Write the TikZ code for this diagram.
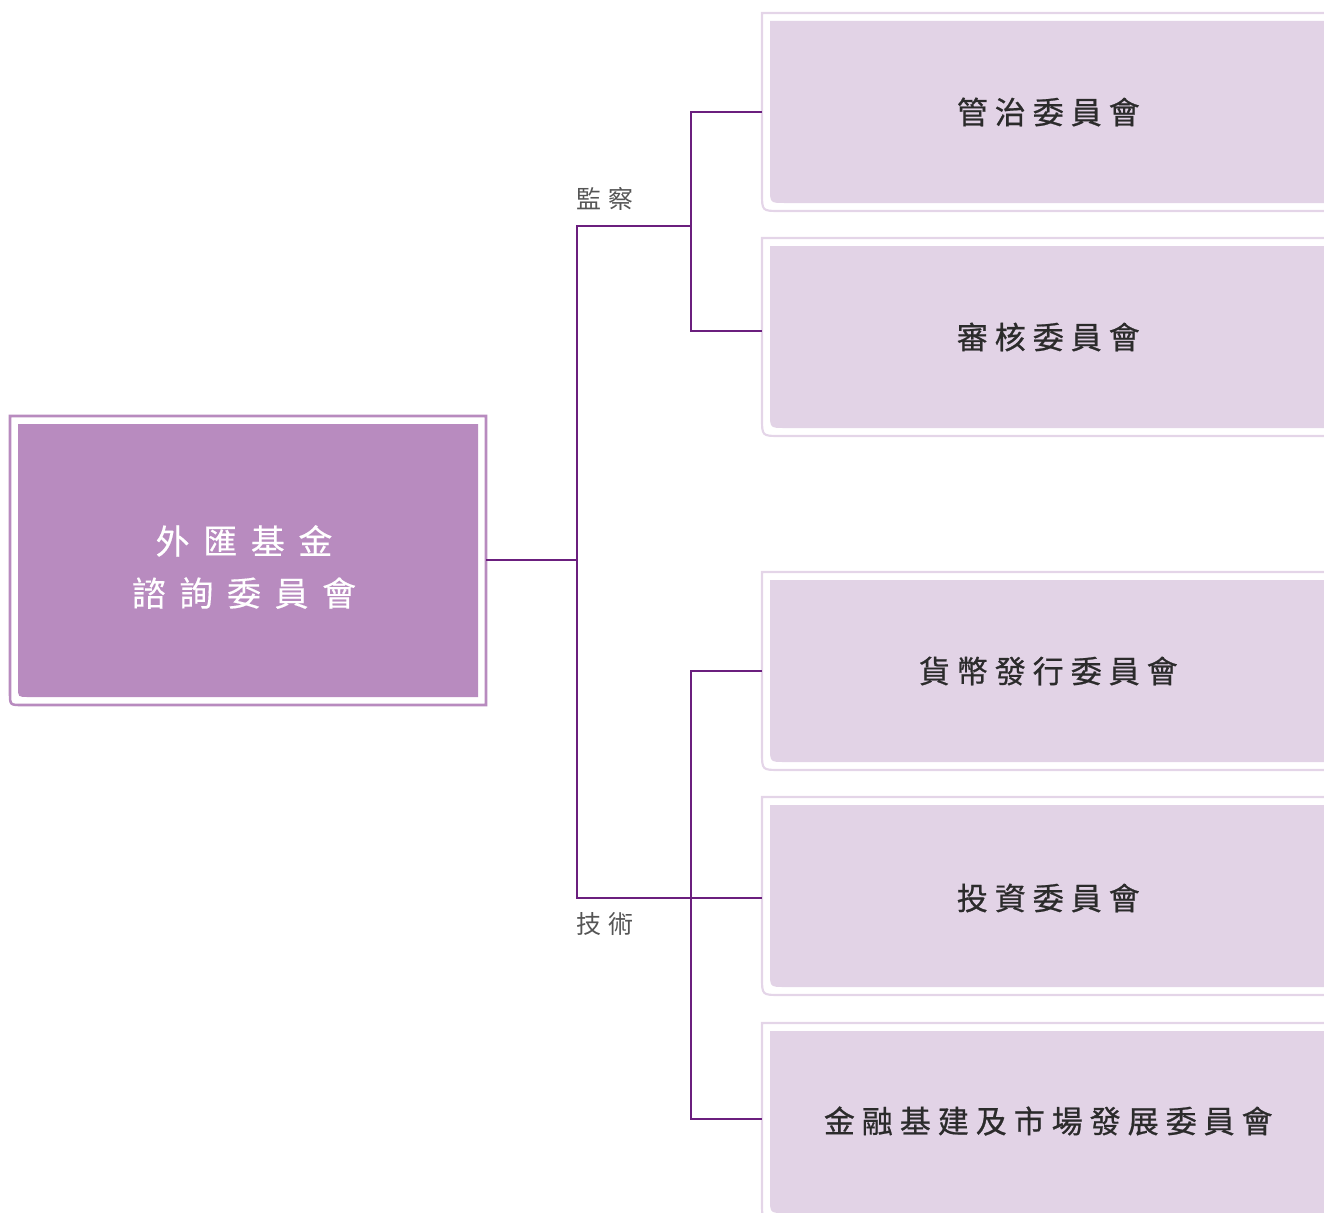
\documentclass[tikz,border=0pt]{standalone}
\usepackage{fontspec}
\usepackage{xcolor}
\usepackage{tikz}

\newfontfamily\cjkmain[LetterSpace=40,FakeBold=0.3]{Noto Sans CJK TC}
\newfontfamily\cjkbox[LetterSpace=22.5,FakeBold=0.7]{Noto Sans CJK TC}
\newfontfamily\cjklabel[LetterSpace=28]{Noto Sans CJK TC}

\definecolor{mainfill}{HTML}{B88BBF}
\definecolor{subfill}{HTML}{E2D3E6}
\definecolor{subedge}{HTML}{E4D5E8}
\definecolor{linkcol}{HTML}{6B1F7E}
\definecolor{labelgrey}{HTML}{555555}
\definecolor{boxtext}{HTML}{2B2B2B}

\tikzset{
  maintext/.style={font=\cjkmain\fontsize{25.5}{39}\selectfont, text=white, align=center, inner sep=0pt},
  subtext/.style={font=\cjkbox\fontsize{23.25}{28}\selectfont, text=boxtext, anchor=west,
    minimum width=429pt, minimum height=148.5pt, inner sep=0pt},
  subframe/.style={draw=subedge, line width=1.6},
  link/.style={draw=linkcol, line width=2.1},
  tag/.style={font=\cjklabel\fontsize{18.75}{22}\selectfont, text=labelgrey, anchor=west, inner sep=0pt},
}

\begin{document}
\begin{tikzpicture}[x=0.75pt,y=0.75pt,yscale=-1,xscale=1]
\useasboundingbox (0,0) rectangle (1324,1213);

% main committee
\fill[mainfill] (18,424) -- (478,424) -- (478,697) -- (28,697) .. controls (18,697) .. (18,687) -- cycle ;
\draw[draw=mainfill, line width=1.9] (486,416) -- (10,416) -- (10,693) .. controls (10,705) .. (22,705) -- (486,705) -- cycle ;
\node[maintext] (efac) at (244,567) {外匯基金\\諮詢委員會};

% sub-committee boxes
\foreach \t in {13,238,572,797,1023} {
  \fill[subfill] (770,\t+8) -- (1324,\t+8) -- (1324,\t+190) -- (785,\t+190) .. controls (770,\t+190) .. (770,\t+175) -- cycle ;
  \draw[subframe] (1324,\t) -- (762,\t) -- (762,\t+180) .. controls (762,\t+198) .. (780,\t+198) -- (1324,\t+198) ;
}

\node[subtext] (gov) at (762,112) {管治委員會};
\node[subtext] (audit) at (762,337) {審核委員會};
\node[subtext] (currency) at (762,671) {貨幣發行委員會};
\node[subtext] (invest) at (762,898) {投資委員會};
\node[subtext] (fin) at (762,1121) {金融基建及市場發展委員會};

% connectors
\coordinate (efac-out) at (486,560);
\coordinate (split) at (577,560);
\coordinate (sup) at (691,226);
\coordinate (tech) at (691,898);

\draw[link] (efac-out) -- (split);
\draw[link] (sup) -| (split) |- (invest.west);
\draw[link] (gov.west) -| (sup) |- ([yshift=-4.5pt]audit.west);
\draw[link] (currency.west) -| (tech) |- ([yshift=-1.5pt]fin.west);

\node[tag] (suplabel) at (576,199) {監察};
\node[tag] (techlabel) at (576,924) {技術};

\end{tikzpicture}
\end{document}
